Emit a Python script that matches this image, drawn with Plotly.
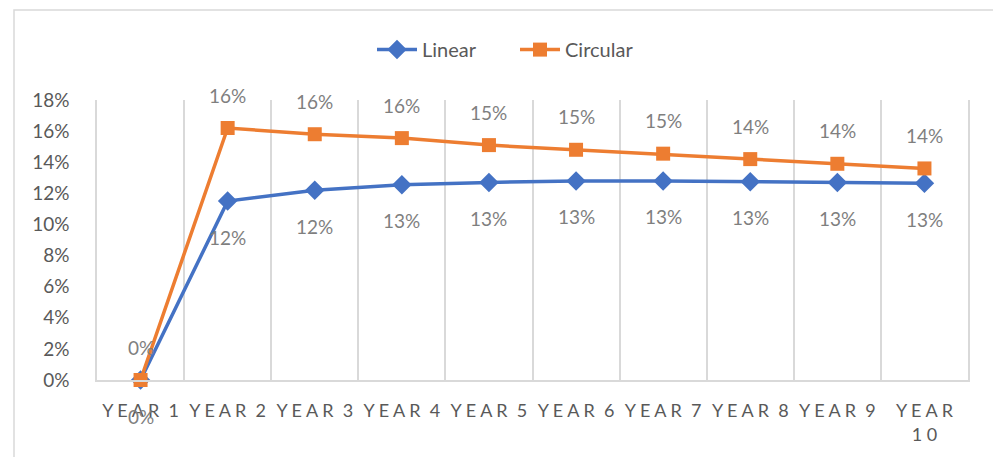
import plotly.graph_objects as go

# ---- data ----
years = ["YEAR 1", "YEAR 2", "YEAR 3", "YEAR 4", "YEAR 5",
         "YEAR 6", "YEAR 7", "YEAR 8", "YEAR 9", "YEAR 10"]
tick_labels = ["Y E A R  1", "Y E A R  2", "Y E A R  3", "Y E A R  4", "Y E A R  5",
               "Y E A R  6", "Y E A R  7", "Y E A R  8", "Y E A R  9", "Y E A R<br>1 0"]
linear = [0.0, 11.5, 12.2, 12.55, 12.7, 12.8, 12.8, 12.75, 12.7, 12.65]
circular = [0.0, 16.2, 15.8, 15.55, 15.1, 14.8, 14.55, 14.2, 13.9, 13.6]
y_ticks = [0, 2, 4, 6, 8, 10, 12, 14, 16, 18]
y_tick_text = ["0%", "2%", "4%", "6%", "8%", "10%", "12%", "14%", "16%", "18%"]

BLUE = "#4472C4"
ORANGE = "#ED7D31"
FONT = "Lato"

fig = go.Figure()
fig.add_trace(go.Scatter(
    x=tick_labels, y=linear, name="Linear", mode="lines+markers",
    line=dict(color=BLUE, width=3.5),
    marker=dict(symbol="diamond", size=15, color=BLUE),
    cliponaxis=False,
))
fig.add_trace(go.Scatter(
    x=tick_labels, y=circular, name="Circular", mode="lines+markers",
    line=dict(color=ORANGE, width=3.5),
    marker=dict(symbol="square", size=14, color=ORANGE),
    cliponaxis=False,
))

annotations = []
for xl, v in zip(tick_labels, circular):
    annotations.append(dict(x=xl, y=v, text=f"{v:.0f}%", showarrow=False,
                            yshift=33, font=dict(family=FONT, size=19, color="#7F7F7F")))
for xl, v in zip(tick_labels, linear):
    annotations.append(dict(x=xl, y=v, text=f"{v:.0f}%", showarrow=False,
                            yshift=-36, font=dict(family=FONT, size=19, color="#7F7F7F")))

fig.update_layout(
    width=993, height=457,
    margin=dict(l=97, r=25, t=100, b=77, autoexpand=False),
    paper_bgcolor="white", plot_bgcolor="white",
    font=dict(family=FONT, color="#595959"),
    showlegend=True,
    legend=dict(orientation="h", x=(372 - 97) / 871, xanchor="left", y=1.18, yanchor="middle",
                font=dict(family=FONT, size=20, color="#595959"),
                itemwidth=40, entrywidth=88, traceorder="normal"),
    annotations=annotations,
    shapes=[dict(type="rect", xref="paper", yref="paper",
                 x0=(14 - 97) / 871, x1=(1100 - 97) / 871,
                 y0=(380 - 470) / 280, y1=(380 - 10) / 280,
                 line=dict(color="#D9D9D9", width=1.5), fillcolor="rgba(0,0,0,0)",
                 layer="below")],
    xaxis=dict(
        type="category", range=[-0.5, 9.5], tickson="boundaries", showgrid=True,
        gridcolor="#D9D9D9", gridwidth=1.5,
        showline=True, linecolor="#D9D9D9", linewidth=1.5,
        ticks="", tickfont=dict(family=FONT, size=18, color="#595959"),
        ticklabelstandoff=14, zeroline=False, automargin=False,
    ),
    yaxis=dict(
        range=[0, 18], tickmode="array", tickvals=y_ticks, ticktext=y_tick_text,
        showgrid=False, zeroline=False,
        showline=True, mirror=True, linecolor="#D9D9D9", linewidth=1.5,
        ticks="", tickfont=dict(family=FONT, size=19, color="#595959"),
        ticklabelstandoff=22, automargin=False,
    ),
)

fig.write_html("out.html", post_script="document.body.style.margin='0';",
               config={"displayModeBar": False})
